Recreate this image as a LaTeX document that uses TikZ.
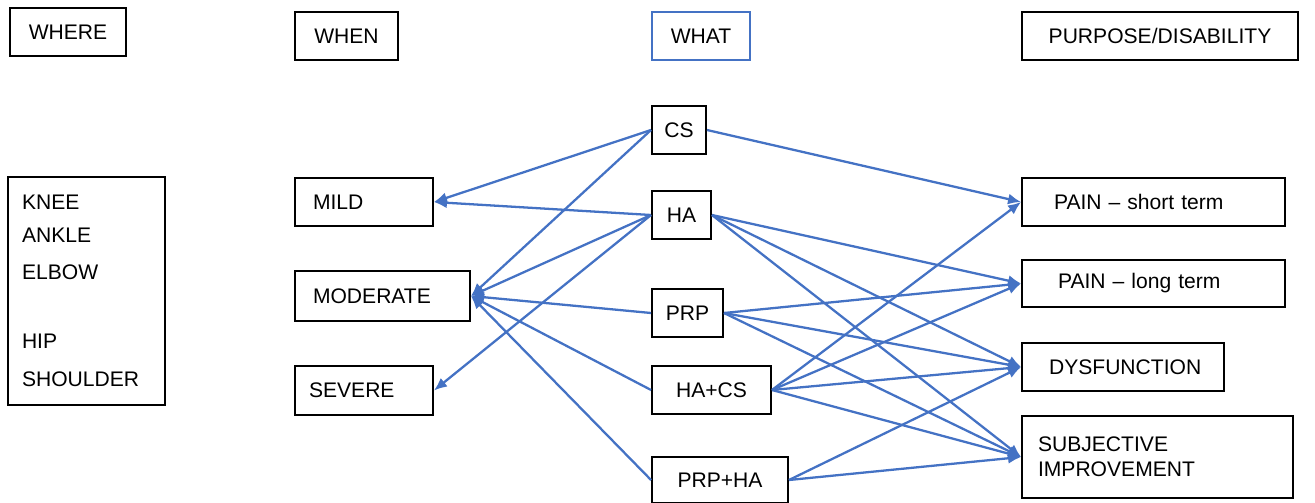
\documentclass[tikz,border=0pt]{standalone}
\usepackage{fontspec}
\setmainfont{Liberation Sans}
\usepackage{xcolor}
\definecolor{linkblue}{RGB}{68,114,196}
\usetikzlibrary{arrows.meta}

\begin{document}
\begin{tikzpicture}[x=0.02cm,y=-0.02cm,
  box/.style={draw,line width=1.1pt,minimum height=0.96cm,inner ysep=0pt,
    font=\fontsize{12}{14.4}\selectfont},
  lbox/.style={box,align=left},
  link/.style={draw=linkblue,line width=1.3pt,-{Latex[length=2.6mm,width=2.2mm]}}
]
  \useasboundingbox (0,0) rectangle (1315,503);
  % column headers
  \node[box,minimum width=2.32cm] (where) at (68,32) {WHERE};
  \node[box,minimum width=2.06cm] (when) at (346.5,36) {WHEN};
  \node[box,draw=linkblue,minimum width=1.96cm] (what) at (701,36) {WHAT};
  \node[box,minimum width=5.52cm] (purpose) at (1160,36) {PURPOSE/DISABILITY};
  % where
  \node[lbox,text width=2.58cm,inner xsep=0.28cm,minimum height=4.56cm] (sites) at (86.5,291)
    {KNEE\\[4pt]ANKLE\\[7pt]ELBOW\\[25pt]HIP\\[7pt]SHOULDER};
  % when
  \node[lbox,text width=2.04cm,inner xsep=0.36cm] (mild) at (364,202) {MILD};
  \node[lbox,text width=2.78cm,inner xsep=0.36cm,minimum height=1cm] (moderate) at (382.5,296) {MODERATE};
  \node[lbox,text width=2.2cm,inner xsep=0.28cm,minimum height=0.98cm] (severe) at (364,390.5) {SEVERE};
  % what
  \node[box,minimum width=1.08cm] (cs) at (679,130) {CS};
  \node[box,minimum width=1.18cm] (ha) at (681.5,215) {HA};
  \node[box,minimum width=1.42cm] (prp) at (687.5,313) {PRP};
  \node[box,minimum width=2.38cm] (hacs) at (711.5,390) {HA+CS};
  \node[box,minimum width=2.72cm,minimum height=0.92cm] (prpha) at (720,480) {PRP+HA};
  % purpose/disability
  \node[lbox,text width=3.98cm,inner xsep=0.64cm] (pshort) at (1153.5,202) {PAIN -- short term};
  \node[lbox,text width=3.82cm,inner xsep=0.72cm,minimum height=0.94cm] (plong) at (1153.5,283.5) {PAIN -- long term};
  \node[lbox,text width=2.96cm,inner xsep=0.54cm] (dysf) at (1123,367) {DYSFUNCTION};
  \node[lbox,text width=4.78cm,inner xsep=0.32cm,minimum height=1.64cm] (subj) at (1157.5,457)
    {SUBJECTIVE\\IMPROVEMENT};
  % links to severity
  \foreach \from/\to in {cs/mild,cs/moderate,ha/mild,ha/moderate,ha/severe,
      prp/moderate,hacs/moderate,prpha/moderate}
    \draw[link] (\from.west) -- (\to.east);
  % links to outcomes
  \foreach \from/\to in {cs/pshort,ha/plong,ha/dysf,ha/subj,prp/plong,prp/dysf,prp/subj,
      hacs/pshort,hacs/plong,hacs/dysf,hacs/subj,prpha/dysf,prpha/subj}
    \draw[link] (\from.east) -- (\to.west);
\end{tikzpicture}
\end{document}
